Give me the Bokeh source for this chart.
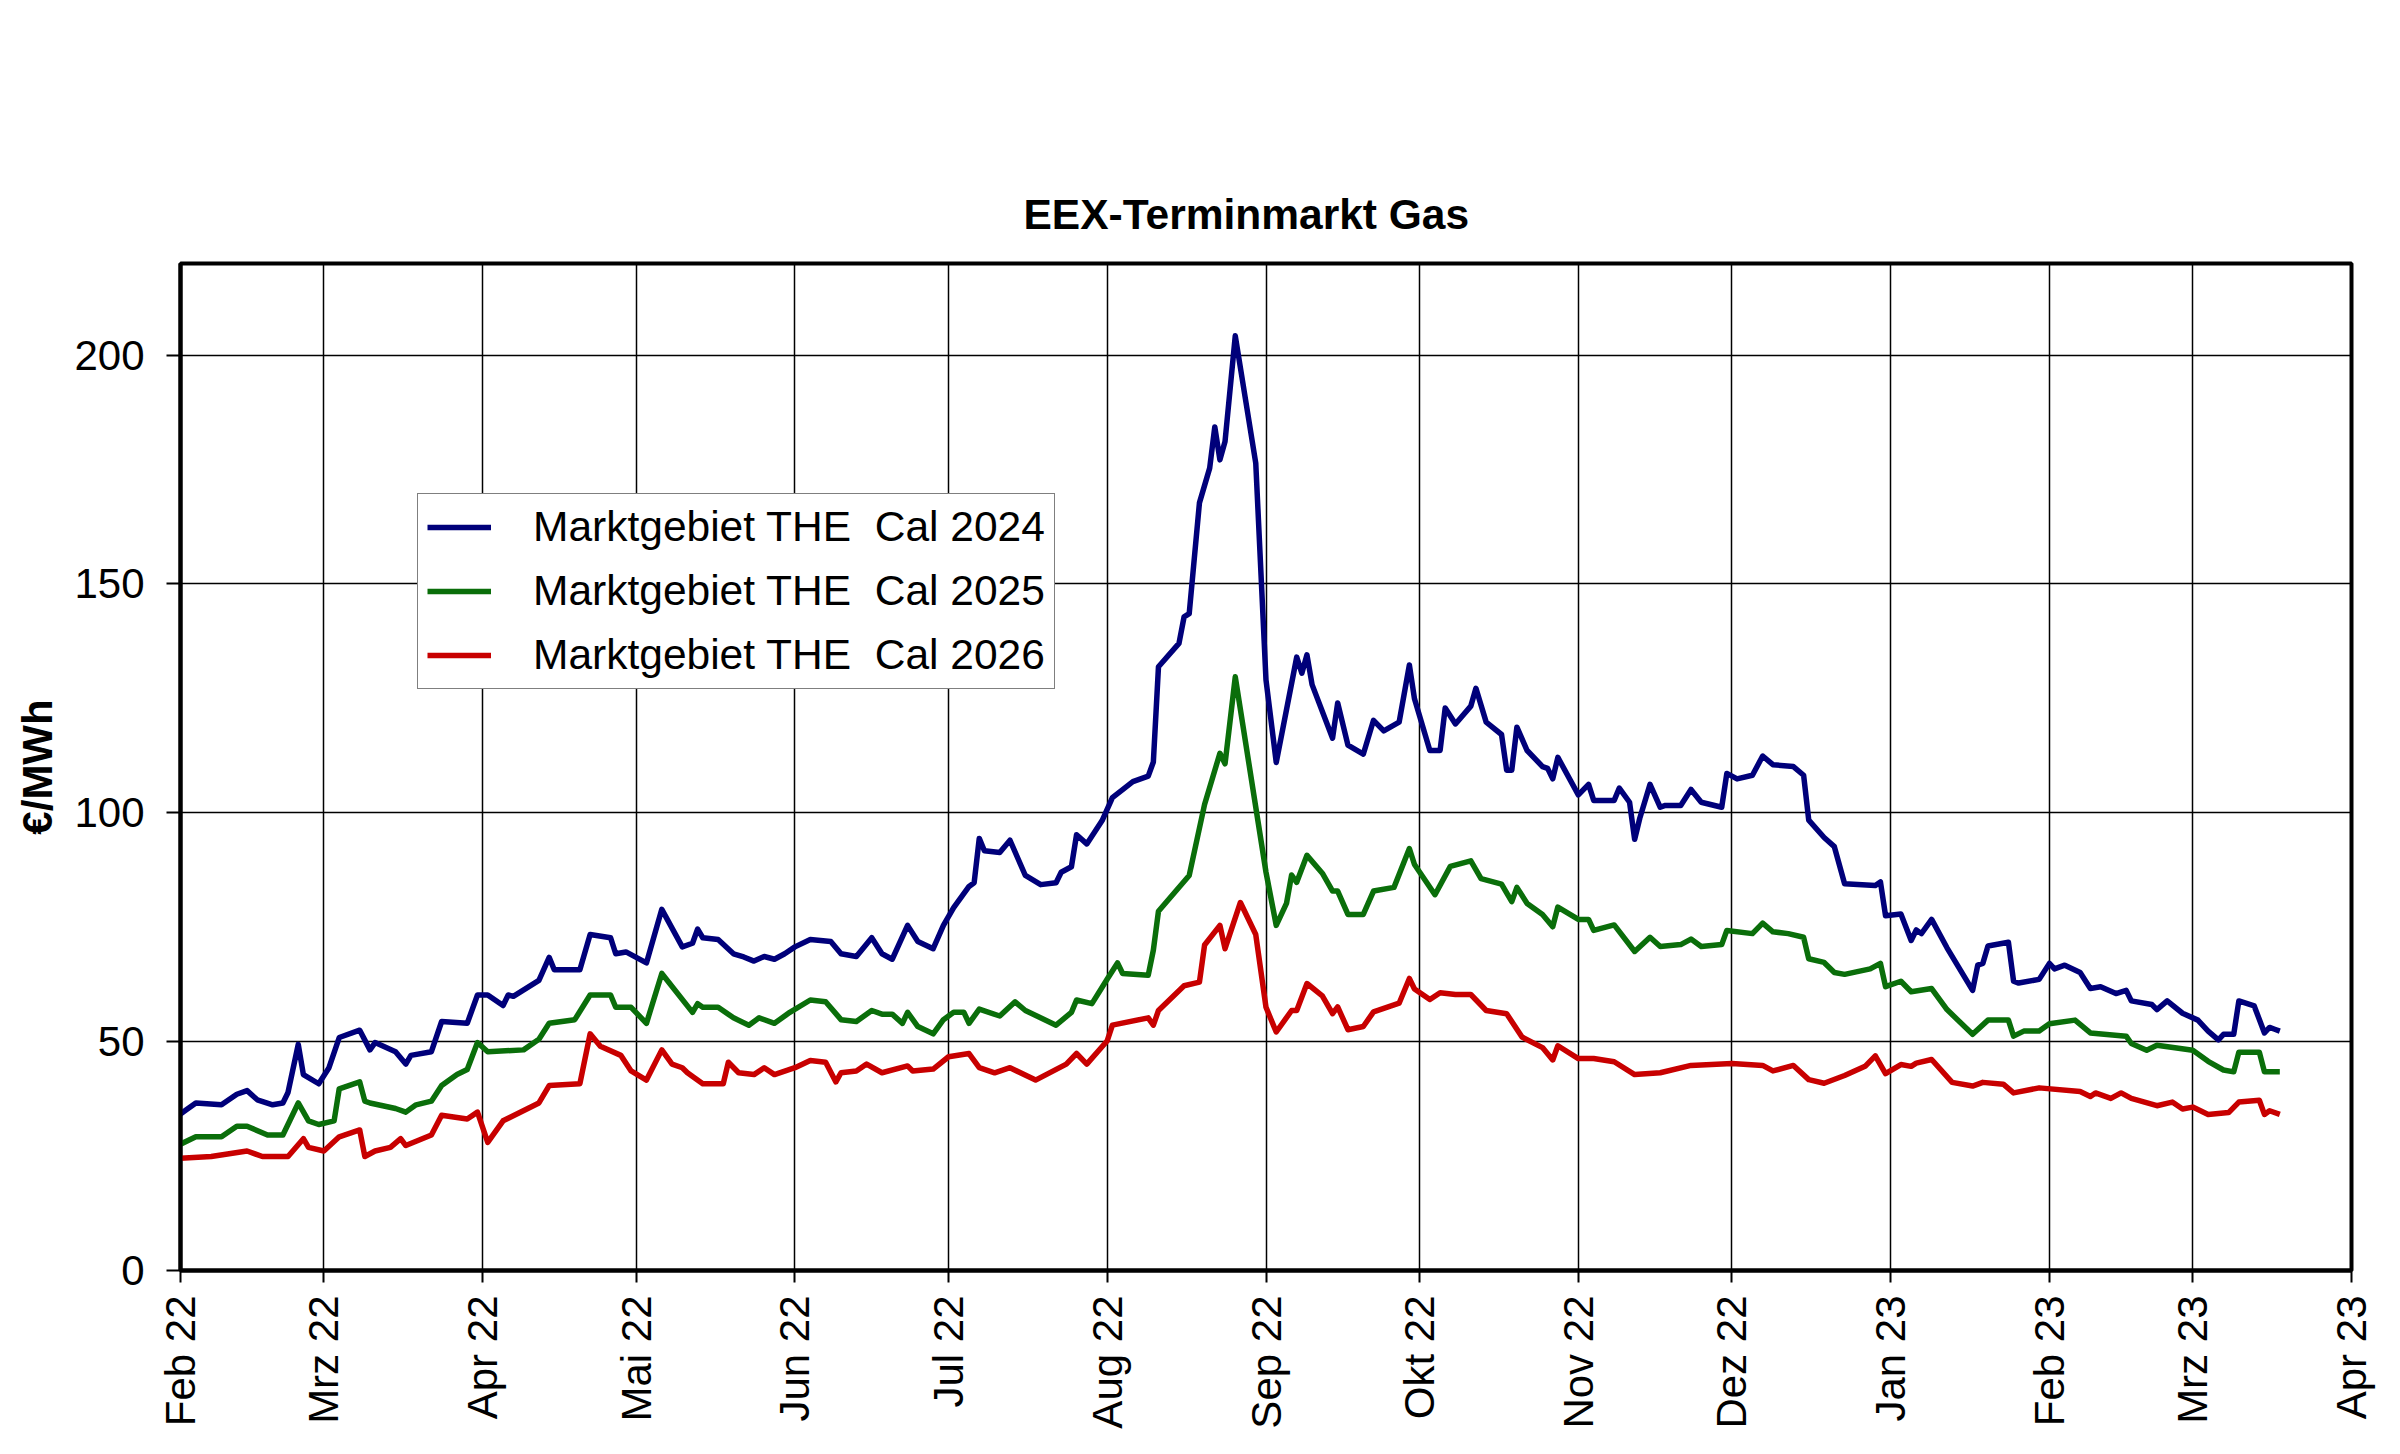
import numpy as np
import pandas as pd
from bokeh.plotting import figure
from bokeh.models import (FixedTicker, CustomJSTickFormatter, Range1d, Legend,
                          LegendItem)
from bokeh.embed import file_html
from bokeh.resources import INLINE

TITLE = "EEX-Terminmarkt Gas"
Y_LABEL = "€/MWh"
START = "2022-02-01"
X_END = "2023-04-01"
SERIES_NAMES = ["Marktgebiet THE  Cal 2024", "Marktgebiet THE  Cal 2025",
                "Marktgebiet THE  Cal 2026"]
SERIES_COLORS = ["#00007a", "#0a6e0a", "#c80000"]

TICK_DATES = ["2022-02-01", "2022-03-01", "2022-04-01", "2022-05-01", "2022-06-01",
              "2022-07-01", "2022-08-01", "2022-09-01", "2022-10-01", "2022-11-01",
              "2022-12-01", "2023-01-01", "2023-02-01", "2023-03-01", "2023-04-01"]
TICK_LABELS = ["Feb 22", "Mrz 22", "Apr 22", "Mai 22", "Jun 22", "Jul 22", "Aug 22",
               "Sep 22", "Okt 22", "Nov 22", "Dez 22", "Jan 23", "Feb 23", "Mrz 23",
               "Apr 23"]
Y_TICKS = [0, 50, 100, 150, 200]

# day offsets from START (trading days)
DAYS_2024 = [0, 1, 3, 8, 11, 13, 15, 18, 20, 21,
             23, 24, 27, 29, 31, 35, 37, 38, 42, 44,
             45, 49, 51, 56, 58, 60, 63, 64, 65, 70,
             72, 73, 78, 80, 84, 85, 87, 89, 91, 94,
             98, 100, 101, 102, 105, 108, 110, 112, 114, 116,
             118, 120, 123, 127, 129, 132, 135, 137, 139, 142,
             144, 147, 149, 151, 154, 155, 156, 157, 160, 162,
             165, 168, 171, 172, 174, 175, 177, 180, 182, 186,
             189, 190, 191, 195, 196, 197, 199, 201, 202, 203,
             204, 206, 210, 212, 214, 218, 219, 220, 221, 225,
             226, 228, 231, 233, 235, 238, 240, 241, 244, 246,
             247, 249, 252, 253, 255, 258, 259, 260, 261, 263,
             266, 267, 268, 269, 273, 275, 276, 280, 281, 283,
             284, 285, 287, 289, 290, 293, 295, 297, 301, 302,
             304, 307, 309, 311, 315, 317, 318, 321, 323, 325,
             331, 332, 333, 336, 338, 339, 340, 342, 345, 350,
             351, 352, 353, 357, 358, 359, 363, 365, 366, 368,
             371, 373, 375, 378, 380, 381, 385, 386, 388, 391,
             394, 396, 398, 399, 401, 402, 405, 407, 408, 409,
             410]
CAL_2024 = [34.2, 35, 36.6, 36.2, 38.5, 39.3, 37.3, 36.2, 36.6, 38.9,
            49.4, 42.8, 40.8, 44.3, 50.9, 52.5, 48.2, 49.8, 47.8, 45.1,
            47, 47.8, 54.4, 54, 60.2, 60.2, 57.9, 60.2, 59.9, 63.4,
            68.4, 65.7, 65.7, 73.4, 72.7, 69.2, 69.6, 68.4, 67.2, 78.9,
            70.7, 71.5, 74.6, 72.7, 72.3, 69.2, 68.5, 67.6, 68.6, 68,
            69.2, 70.7, 72.3, 71.9, 69.2, 68.6, 72.7, 69.2, 68, 75.4,
            71.9, 70.3, 75.4, 79.3, 83.9, 84.7, 94.4, 91.7, 91.3, 94,
            86.3, 84.3, 84.7, 87, 88.2, 95.2, 93.2, 98.3, 103.3, 106.8,
            108, 111.1, 131.9, 137, 142.8, 143.5, 167.7, 175.3, 184.3, 177.1,
            181.1, 204.2, 176.4, 129, 111, 134, 130.5, 134.5, 128, 116.3,
            124, 114.8, 112.8, 120.2, 117.9, 119.8, 132.3, 124.9, 113.6, 113.6,
            122.9, 119.4, 123.3, 127.2, 119.8, 117.1, 109.3, 109.3, 118.7, 113.6,
            110.1, 109.7, 107.4, 112.1, 103.9, 106.2, 102.7, 102.7, 105.4, 102.3,
            94.2, 98.8, 106.2, 101.2, 101.6, 101.6, 105.1, 102.3, 101.2, 108.6,
            107.4, 108.2, 112.4, 110.5, 110.1, 108.2, 98.4, 94.6, 92.6, 84.5,
            84.1, 84.9, 77.5, 77.9, 72.1, 74.4, 73.6, 76.7, 70.5, 61.2,
            66.7, 67.1, 70.9, 71.7, 63.2, 62.8, 63.6, 67.1, 65.9, 66.7,
            65.1, 61.6, 62, 60.5, 61.2, 58.9, 58.1, 57, 58.9, 56.2,
            54.7, 52.3, 50.4, 51.6, 51.6, 58.9, 57.8, 51.9, 53.1, 52.7,
            52.3]

DAYS_2025 = [0, 3, 8, 11, 13, 17, 20, 23, 25, 27,
             30, 31, 35, 36, 37, 42, 44, 46, 49, 51,
             54, 56, 58, 60, 67, 70, 72, 77, 80, 84,
             85, 88, 91, 94, 100, 101, 102, 105, 108, 111,
             113, 116, 119, 123, 126, 129, 132, 135, 137, 139,
             141, 142, 144, 147, 149, 151, 153, 154, 156, 160,
             163, 165, 171, 174, 175, 178, 181, 183, 184, 189,
             190, 191, 197, 200, 203, 204, 206, 212, 214, 216,
             217, 218, 220, 223, 225, 226, 228, 231, 233, 237,
             240, 241, 245, 248, 252, 254, 258, 260, 261, 263,
             266, 268, 269, 273, 275, 276, 280, 284, 287, 289,
             293, 295, 297, 301, 302, 307, 309, 311, 314, 317,
             318, 321, 323, 325, 330, 332, 333, 336, 338, 342,
             345, 350, 353, 357, 358, 360, 363, 365, 370, 373,
             380, 381, 384, 386, 393, 396, 399, 401, 402, 406,
             407, 410]
CAL_2025 = [27.6, 29.2, 29.2, 31.5, 31.5, 29.6, 29.6, 36.6, 32.7, 31.9,
            32.7, 39.7, 41.2, 37, 36.6, 35.4, 34.6, 36.2, 37, 40.4,
            42.8, 43.9, 49.8, 47.8, 48.2, 50.5, 54, 54.8, 60.2, 60.2,
            57.5, 57.5, 54, 64.9, 56.4, 58.3, 57.5, 57.5, 55.2, 53.6,
            55.2, 54, 56.4, 59.1, 58.7, 54.8, 54.4, 56.8, 56, 56,
            54, 56.4, 53.3, 51.7, 54.8, 56.4, 56.4, 54, 57.1, 55.6,
            58.7, 56.8, 53.6, 56.4, 59.1, 58.3, 63.7, 67.2, 64.9, 64.5,
            70, 78.5, 86.3, 101.8, 113, 110.7, 129.7, 87, 75.4, 80.2,
            86.4, 84.8, 90.7, 86.8, 82.9, 82.9, 77.8, 77.8, 82.9, 83.7,
            92.2, 88.7, 82.1, 88.3, 89.5, 85.6, 84.4, 80.6, 83.7, 80.2,
            77.8, 75.1, 79.4, 76.7, 76.7, 74.3, 75.5, 69.7, 72.8, 70.8,
            71.2, 72.4, 70.8, 71.2, 74.3, 73.6, 75.9, 74, 73.6, 72.8,
            68.1, 67.3, 65.1, 64.7, 65.9, 67.1, 62, 63.2, 60.9, 61.6,
            57, 51.6, 54.7, 54.7, 51.2, 52.3, 52.3, 53.9, 54.7, 51.9,
            51.2, 49.6, 48.1, 49.2, 48.1, 45.7, 43.8, 43.4, 47.7, 47.7,
            43.4, 43.4]

DAYS_2026 = [0, 6, 13, 16, 21, 24, 25, 28, 31, 35,
             36, 38, 41, 43, 44, 49, 51, 56, 58, 60,
             63, 70, 72, 78, 80, 82, 86, 88, 91, 94,
             96, 98, 99, 102, 106, 107, 109, 112, 114, 116,
             120, 123, 126, 128, 129, 132, 134, 137, 142, 143,
             147, 150, 154, 156, 159, 162, 167, 173, 175, 177,
             181, 182, 189, 190, 191, 196, 199, 200, 203, 204,
             207, 210, 212, 214, 217, 218, 220, 223, 225, 226,
             228, 231, 233, 238, 240, 241, 244, 246, 249, 252,
             255, 259, 262, 266, 268, 269, 273, 276, 280, 284,
             289, 295, 303, 309, 311, 315, 318, 321, 325, 329,
             331, 333, 336, 338, 339, 342, 346, 350, 352, 356,
             358, 363, 371, 373, 374, 377, 379, 381, 386, 389,
             391, 393, 396, 400, 402, 406, 407, 408, 410]
CAL_2026 = [24.5, 24.9, 26.1, 24.9, 24.9, 28.8, 26.9, 26.1, 29.2, 30.7,
            24.9, 26.1, 26.9, 28.8, 27.3, 29.6, 33.9, 33.1, 34.6, 28,
            32.7, 36.6, 40.4, 40.8, 51.7, 49, 47, 43.6, 41.6, 48.2,
            45.1, 44.3, 43.2, 40.8, 40.8, 45.5, 43.2, 42.8, 44.3, 42.8,
            44.3, 45.9, 45.5, 41.2, 43.2, 43.6, 45.1, 43.2, 44.7, 43.6,
            44, 46.7, 47.4, 44.3, 43.2, 44.3, 41.6, 45.1, 47.4, 45.1,
            50.2, 53.6, 55.2, 53.6, 56.8, 62.2, 63, 71.1, 75.4, 70.3,
            80.4, 73.4, 57.5, 52.1, 56.8, 56.8, 62.7, 60, 56.1, 57.6,
            52.6, 53.3, 56.5, 58.4, 63.8, 61.5, 59.2, 60.7, 60.3, 60.3,
            56.8, 56.1, 51, 48.7, 46, 49.1, 46.3, 46.3, 45.6, 42.8,
            43.2, 44.8, 45.2, 44.8, 43.6, 44.8, 41.7, 40.9, 42.6, 44.6,
            46.9, 43, 45, 44.6, 45.3, 46.1, 41.1, 40.3, 41.1, 40.7,
            38.8, 39.9, 39.1, 38, 38.8, 37.6, 38.8, 37.6, 36, 36.8,
            35.3, 35.7, 34.1, 34.5, 36.8, 37.2, 34.1, 34.9, 34.1]

FONT = "Liberation Sans"


def to_ms(dates):
    return [float(pd.Timestamp(d).value // 10**6) for d in dates]


def to_dates(days):
    return pd.Timestamp(START) + pd.to_timedelta(days, unit="D")


tick_ms = to_ms(TICK_DATES)

p = figure(width=2384, height=1438, x_axis_type="datetime",
           x_range=Range1d(to_ms([START])[0], to_ms([X_END])[0]),
           y_range=Range1d(0, 220),
           output_backend="svg", toolbar_location=None,
           min_border_left=180, min_border_right=33,
           min_border_top=263, min_border_bottom=168)

p.background_fill_color = "white"
p.border_fill_color = "white"
p.outline_line_color = "black"
p.outline_line_width = 4

p.title.text = TITLE
p.title.align = "left"
p.title.text_font = FONT
p.title.text_font_size = "42.5px"
p.title.text_font_style = "bold"
p.title.text_color = "black"
p.title.standoff = 51
p.title.offset = 843

# x axis
p.xaxis.ticker = FixedTicker(ticks=tick_ms)
p.xaxis.formatter = CustomJSTickFormatter(
    args=dict(month_pos=tick_ms, month_labels=TICK_LABELS),
    code="""
    let best = -1, bd = Infinity;
    for (let i = 0; i < month_pos.length; i++) {
        const d = Math.abs(month_pos[i] - tick);
        if (d < bd) { bd = d; best = i; }
    }
    return bd < 86400000 ? month_labels[best] : "";
    """)
p.xaxis.major_label_orientation = np.pi / 2
p.xaxis.major_label_standoff = 13
p.xaxis.major_tick_out = 12
p.xaxis.major_tick_in = 0
p.xaxis.minor_tick_line_color = None

# y axis
p.yaxis.ticker = FixedTicker(ticks=Y_TICKS)
p.yaxis.axis_label = Y_LABEL
p.yaxis.axis_label_text_font = FONT
p.yaxis.axis_label_text_font_size = "42px"
p.yaxis.axis_label_text_font_style = "bold"
p.yaxis.axis_label_text_color = "black"
p.yaxis.axis_label_standoff = 10
p.yaxis.major_label_standoff = 22
p.yaxis.major_tick_out = 14
p.yaxis.major_tick_in = 0
p.yaxis.minor_tick_line_color = None

for ax in (p.xaxis, p.yaxis):
    ax.axis_line_color = "black"
    ax.axis_line_width = 4
    ax.major_tick_line_color = "black"
    ax.major_tick_line_width = 2
    ax.major_label_text_font = FONT
    ax.major_label_text_font_size = "42px"
    ax.major_label_text_color = "black"

for g in (p.xgrid, p.ygrid):
    g.grid_line_color = "black"
    g.grid_line_width = 1.5
    g.grid_line_alpha = 1

series = [(DAYS_2024, CAL_2024), (DAYS_2025, CAL_2025), (DAYS_2026, CAL_2026)]
items = []
for (days, vals), name, color in zip(series, SERIES_NAMES, SERIES_COLORS):
    r = p.line(to_dates(days), vals, line_color=color, line_width=5.5,
               line_join="round")
    items.append(LegendItem(label=name, renderers=[r]))

legend = Legend(items=items, location=(237, 581))
legend.border_line_color = "black"
legend.border_line_width = 1.5
legend.background_fill_color = "white"
legend.background_fill_alpha = 1
legend.label_text_font = FONT
legend.label_text_font_size = "42.5px"
legend.label_text_color = "black"
legend.glyph_width = 64
legend.glyph_height = 44
legend.label_height = 44
legend.label_standoff = 42
legend.spacing = 16
legend.padding = 9
legend.margin = 0
p.add_layout(legend)

open("out.html", "w").write(file_html(p, INLINE))
